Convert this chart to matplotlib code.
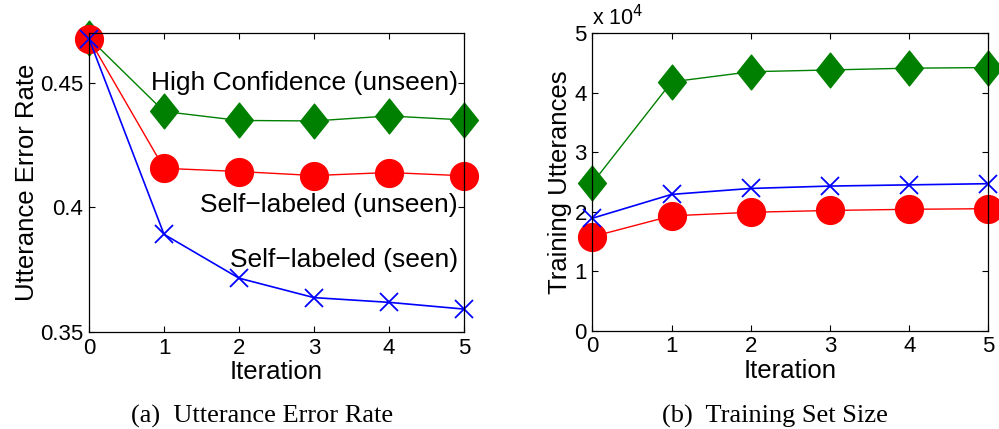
import matplotlib
matplotlib.use("Agg")
import matplotlib.pyplot as plt
from matplotlib.path import Path

plt.rcParams['font.family'] = ['Liberation Sans', 'DejaVu Sans']

iterations = [0, 1, 2, 3, 4, 5]

# (a) utterance error rate
err_high_conf = [0.4680, 0.4385, 0.4349, 0.4347, 0.4367, 0.4351]
err_self_unseen = [0.4677, 0.4157, 0.4144, 0.4128, 0.4140, 0.4127]
err_self_seen = [0.4677, 0.3892, 0.3716, 0.3638, 0.3619, 0.3592]

# (b) training set size (utterances)
size_high_conf = [24800, 41800, 43500, 43800, 44100, 44200]
size_self_unseen = [15800, 19300, 19900, 20200, 20400, 20500]
size_self_seen = [18900, 22900, 23900, 24300, 24500, 24700]

GREEN = (0, 0.5, 0)
RED = (1, 0, 0)
BLUE = (0, 0, 1)

# matlab style diamond (a bit taller than wide)
diamond = Path([(0, 1), (0.8, 0), (0, -1), (-0.8, 0), (0, 1)],
               [Path.MOVETO, Path.LINETO, Path.LINETO, Path.LINETO, Path.CLOSEPOLY])


def draw(ax, y, color, kind):
    if kind == 'd':
        ax.plot(iterations, y, color=color, lw=1.0, marker=diamond, ms=25,
                mfc=color, mec=color, clip_on=False)
    elif kind == 'o':
        ax.plot(iterations, y, color=color, lw=1.0, marker='o', ms=20,
                mfc=color, mec=color, clip_on=False)
    else:
        ax.plot(iterations, y, color=color, lw=1.2, marker='x', ms=13,
                mew=1.3, clip_on=False)


def style(ax):
    ax.tick_params(direction='in', top=True, right=True, labelsize=16,
                   length=4, width=0.8, pad=4)
    for s in ax.spines.values():
        s.set_linewidth(0.9)
    ax.set_xlim(0, 5)
    ax.set_xticks(iterations)
    ax.set_xlabel('Iteration', fontsize=18.5, labelpad=1)


fig = plt.figure(figsize=(9.99, 4.29), dpi=100)

ax1 = fig.add_axes([0.0891, 0.2261, 0.3754, 0.697])
draw(ax1, err_high_conf, GREEN, 'd')
draw(ax1, err_self_unseen, RED, 'o')
draw(ax1, err_self_seen, BLUE, 'x')
style(ax1)
ax1.set_ylim(0.35, 0.47)
ax1.set_yticks([0.35, 0.4, 0.45])
ax1.set_yticklabels(['0.35', '0.4', '0.45'])
ax1.set_ylabel('Utterance Error Rate', fontsize=18.5, labelpad=1)
ax1.text(4.92, 0.450, 'High Confidence (unseen)', fontsize=19, ha='right', va='center')
ax1.text(4.92, 0.401, 'Self\u2212labeled (unseen)', fontsize=19, ha='right', va='center')
ax1.text(4.92, 0.379, 'Self\u2212labeled (seen)', fontsize=19, ha='right', va='center')

ax2 = fig.add_axes([0.593, 0.229, 0.3964, 0.694])
draw(ax2, [v / 1e4 for v in size_high_conf], GREEN, 'd')
draw(ax2, [v / 1e4 for v in size_self_unseen], RED, 'o')
draw(ax2, [v / 1e4 for v in size_self_seen], BLUE, 'x')
style(ax2)
ax2.set_ylim(0, 5)
ax2.set_yticks([0, 1, 2, 3, 4, 5])
ax2.set_ylabel('Training Utterances', fontsize=18.5, labelpad=2)
ax2.text(0.0, 1.008, r'x 10$^4$', transform=ax2.transAxes, fontsize=15.5, ha='left', va='bottom')

fig.text(0.262, 0.016, '(a)  Utterance Error Rate', family='Liberation Serif',
         fontsize=19, ha='center', va='baseline')
fig.text(0.776, 0.016, '(b)  Training Set Size', family='Liberation Serif',
         fontsize=19, ha='center', va='baseline')

fig.savefig('out.png', dpi=100)
